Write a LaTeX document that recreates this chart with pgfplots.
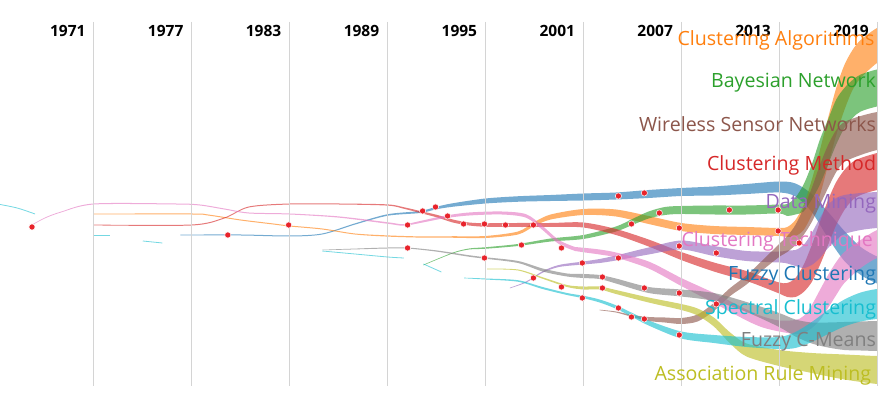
\documentclass[border=0pt]{standalone}
\usepackage{pgfplots}
\pgfplotsset{compat=1.18}
\usepgfplotslibrary{fillbetween}
\usepackage{pgfplotstable}
\usepackage{fontspec}
\setmainfont{Open Sans}

\definecolor{cblue}{HTML}{1F77B4}
\definecolor{corange}{HTML}{FF7F0E}
\definecolor{cgreen}{HTML}{2CA02C}
\definecolor{cred}{HTML}{D62728}
\definecolor{cpurple}{HTML}{9467BD}
\definecolor{cbrown}{HTML}{8C564B}
\definecolor{cpink}{HTML}{E377C2}
\definecolor{cgray}{HTML}{7F7F7F}
\definecolor{colive}{HTML}{BCBD22}
\definecolor{ccyan}{HTML}{17BECF}
\definecolor{cdot}{HTML}{E8232B}
\definecolor{cgrid}{HTML}{D4D4D4}

% columns: year, centre (px from top), thickness (px)
\pgfplotstableread{
x c w
1976.3 235 0.8
1980 235 1
1983 236 1
1985 234 1
1987 224 1.2
1989 215 1.5
1991 212 2
1992 208 2.5
1993 205 3.5
1995 201 5
1997 199 5.5
1999 198 6
2001 197 7
2003 196 7
2005 194 8
2007 192 8
2009 191 9
2011 189 10
2013 187 11
2014 190 13
2015 203 18
2016 225 26
2017 246 30
2018 261 28
2019 270 27
2020 275 27
}\tblue
\pgfplotstableread{
x c w
1971 214 0.8
1977 214 1
1978 215 1
1980 220 1
1982 224 1
1983 226 1
1985 229 1
1987 234 1
1989 236 1.2
1991 237 1.2
1993 237 1.5
1995 237 2
1997 233 3
1998 224 4
1999 217 5
2001 212 6
2003 213 7
2005 220 8
2007 227 8
2009 230 8
2011 231 8
2013 232 8
2013.5 232 10
2014 228 16
2014.5 217.5 25
2015 197.5 35
2015.5 172.5 45
2016 141.5 47
2016.5 111.5 47
2017 87.5 45
2017.5 70 40
2018 59 38
2019 45.5 35
2020 38.5 33
}\torange
\pgfplotstableread{
x c w
1991.2 265 0.6
1993 253 0.8
1994 249 1
1995 248 1.5
1997 245 2
1999 240 3
2001 237 4
2003 229 5
2004 222 6
2005 215 7
2006 211 8
2007 210 8
2009 210 9
2011 210 9
2013 209 9
2013.5 210 12
2014 206 17
2014.5 198 27
2015 182 35
2015.5 162 45
2016 142 45
2016.5 122 45
2017 108 40
2017.5 99 38
2018 93 37
2019 88 37
2020 86 37
}\tgreen
\pgfplotstableread{
x c w
1971 225 0.8
1977 225 1
1979 218 1
1980.5 207 1
1983 204 1
1986 204 1
1989 205 1.2
1990 208 1.5
1991 212 2
1992 216 2.5
1993 221 3
1994 224 3
1995 225 3.5
1997 225 4
1999 225 4
2001 225 5
2003 232 6
2005 243 7
2007 256 8
2009 267 9
2011 276 10
2012 282 10
2013 288 11
2013.5 290 14
2014 287.5 19
2014.5 278.5 27
2015 263.5 37
2015.5 243.5 43
2016 222.5 45
2016.5 203.5 43
2017 190 40
2017.5 181 38
2018 176.5 37
2019 171.5 37
2020 169 38
}\tred
\pgfplotstableread{
x c w
1967.2 225 0.6
1968 218 0.8
1969 212 0.8
1971 204 1
1976 204 1
1977.5 205 1
1979 209 1
1980.5 213 1
1983 214 1
1986 217 1.2
1989 223 1.5
1990 225 1.5
1991 222 2
1992.5 217 2.5
1994 214 3
1996 213 3
1997.5 216 3.5
1998.5 228 4
1999.5 242 4
2000.5 249 4
2001 250 4.5
2002 252 5
2003 255 5
2005 265 7
2007 282 8
2009 298 10
2011 315 11
2012 322 11
2013 326 11
2014 327 14
2014.5 324.5 17
2015 316.5 23
2015.5 305 30
2016 291.5 33
2016.5 278.5 33
2017 267.5 31
2018 254 28
2019 244 28
2020 240 28
}\tpink
\pgfplotstableread{
x c w
1996.5 288 0.6
1997.5 282 1
1998.5 272 1.5
1999.5 266 2
2001 263 3
2002 261 4
2003 258 5
2005 251 7
2007 245 9
2009 251 10
2011 256 10
2013 257 11
2013.5 257 13
2014 258 16
2014.5 256.5 23
2015 249 32
2015.5 238 40
2016 226.5 43
2016.5 219 42
2017 214.5 39
2018 211.5 37
2019 210 36
2020 209 36
}\tpurple
\pgfplotstableread{
x c w
2002 310 0.6
2003 312 1
2004 316 2
2005 319 4
2006 320 5
2007 321 6
2008 318 7
2009 307 8
2010 292 8
2011 280 9
2012 265 10
2013 250.5 13
2013.5 244 16
2014 235 20
2014.5 221.5 27
2015 205 34
2015.5 185 40
2016 166.5 43
2016.5 151 42
2017 142 40
2018 135.5 39
2019 131 38
2020 129 38
}\tbrown
\pgfplotstableread{
x c w
1985 250 0.5
1987 249 0.8
1989 248 1
1990.2 248 1
1992 251 1.2
1994 256 1.5
1995 258 1.5
1997 262 2
1998.5 270 3
2000 275 3
2001 276 4
2002 277 4
2003 281 5
2005 290 6
2007 293 7
2009 297 8
2011 307 10
2013 320 14
2014 328 17
2015 333 21
2016 335 25
2017 336 28
2018 336 29
2019 336 30
2020 336 30
}\tgray
\pgfplotstableread{
x c w
1995.1 269 0.6
1997 270 1
1998.5 278 1.5
2000 286 2
2001 288 3
2002 288 3
2003 292 4
2005 300 5
2007 307 6
2008 312 7
2009 322 9
2010 338 11
2011 350 13
2013 358 16
2015 363 20
2017 367 25
2019 370 28
2020 370 29
}\tolive
\pgfplotstableread{
x c w
1993.7 278 0.6
1995 279 1
1997 281 1.5
1998.5 288 2
2000 294 2
2001 297 2.5
2002 301 3
2003 307 3.5
2004 315 4
2005 323 5
2007 335 7
2009 339 8
2011 342 10
2013 343 12
2014 340 16
2015 332 20
2016 322 24
2017 313 27
2018 307 29
2019 304 30
2020 303 30
}\tcyan

\pgfplotstableread{
x y
1967.21 227
1979.21 235
1982.94 225
1990.23 225
1991.15 211
1991.94 207
1992.68 216
1993.66 224
1994.94 224
1996.23 225
1997.94 225
1990.23 248
1994.94 258
1997.21 245
1997.94 278
1999.66 287
1999.66 248
2000.94 263
2000.94 298
2002.17 277
2002.17 288
2003.15 196
2003.15 258
2003.15 308
2003.95 224
2003.95 317
2004.74 193
2004.74 288
2004.74 319
2005.66 213
2006.88 228
2006.88 246
2006.88 293
2006.88 335
2009.15 253
2009.15 304
2009.95 210
2012.94 210
2012.94 231
2014.23 243
}\tdots

\newcommand{\band}[3]{%
  \addplot[draw=none, smooth, name path=#3a, forget plot] table[x=x, y expr=\thisrow{c}-0.5*\thisrow{w}] {#1};
  \addplot[draw=none, smooth, name path=#3b, forget plot] table[x=x, y expr=\thisrow{c}+0.5*\thisrow{w}] {#1};
  \addplot[fill=#2, fill opacity=0.62, draw=none, forget plot] fill between[of=#3a and #3b];
}

\begin{document}
\begin{tikzpicture}
\begin{axis}[
  width=878pt, height=395pt, scale only axis,
  xmin=1965.25, xmax=2019.06, ymin=0, ymax=395, y dir=reverse,
  axis lines=none, clip=true,
]
\pgfplotsinvokeforeach{1971,1977,1983,1989,1995,2001,2007,2013,2019}{
  \draw[cgrid, line width=1pt] (axis cs:#1,22) -- (axis cs:#1,386);
  \node[anchor=east, inner sep=0pt, font=\bfseries\fontsize{15.5}{16}\selectfont] at (axis cs:#1-0.5,31) {#1};
}
% thin early fragments
\addplot[ccyan, opacity=0.6, line width=0.8pt, smooth] coordinates {(1965.1,204) (1966.3,208) (1967.4,214)};
\addplot[ccyan, opacity=0.6, line width=0.8pt] coordinates {(1971,235) (1972,235)};
\addplot[ccyan, opacity=0.6, line width=0.8pt] coordinates {(1974,241) (1975.2,243)};
\addplot[ccyan, opacity=0.6, line width=0.8pt, smooth] coordinates {(1985,251) (1987,254) (1989,257) (1990,258)};
\addplot[ccyan, opacity=0.6, line width=0.8pt] coordinates {(1991.2,264) (1992.3,272)};

\band{\tblue}{cblue}{bl}
\band{\torange}{corange}{or}
\band{\tgreen}{cgreen}{gr}
\band{\tred}{cred}{rd}
\band{\tpurple}{cpurple}{pu}
\band{\tbrown}{cbrown}{br}
\band{\tpink}{cpink}{pk}
\band{\tgray}{cgray}{gy}
\band{\tolive}{colive}{ol}
\band{\tcyan}{ccyan}{cy}

\addplot[only marks, mark=*, mark size=3.1pt, mark options={fill=cdot, draw=white, line width=0.5pt}] table[x=x,y=y] {\tdots};

\begin{scope}[every node/.style={inner sep=0pt, font=\fontsize{19.6}{20}\selectfont}]
\node[anchor=west, text=corange] at (axis cs:2006.76,40) {Clustering Algorithms};
\node[anchor=east, text=cgreen] at (axis cs:2018.95,82) {Bayesian Network};
\node[anchor=east, text=cbrown] at (axis cs:2018.95,124) {Wireless Sensor Networks};
\node[anchor=east, text=cred] at (axis cs:2018.95,165) {Clustering Method};
\node[anchor=east, text=cpurple] at (axis cs:2018.95,204) {Data Mining};
\node[anchor=west, text=cpink] at (axis cs:2007.01,241) {Clustering Technique};
\node[anchor=east, text=cblue] at (axis cs:2018.95,275) {Fuzzy Clustering};
\node[anchor=east, text=ccyan] at (axis cs:2018.95,309) {Spectral Clustering};
\node[anchor=east, text=cgray] at (axis cs:2018.95,342) {Fuzzy C-Means};
\node[anchor=west, text=colive] at (axis cs:2005.35,375) {Association Rule Mining};
\end{scope}
\end{axis}
\pgfresetboundingbox
\useasboundingbox (current axis.south west) rectangle (current axis.north east);
\end{tikzpicture}
\end{document}
